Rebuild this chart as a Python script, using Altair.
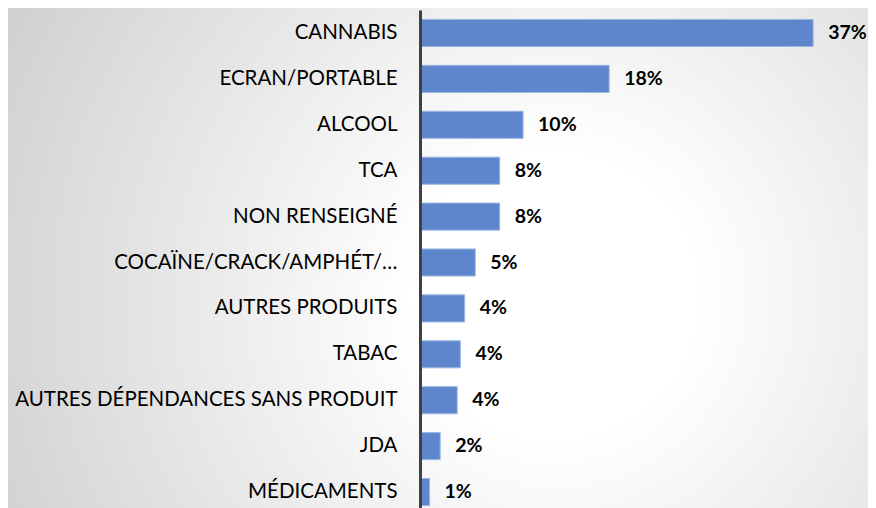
import altair as alt
import pandas as pd

categories = [
    "CANNABIS", "ECRAN/PORTABLE", "ALCOOL", "TCA", "NON RENSEIGNÉ",
    "COCAÏNE/CRACK/AMPHÉT/…", "AUTRES PRODUITS", "TABAC",
    "AUTRES DÉPENDANCES SANS PRODUIT", "JDA", "MÉDICAMENTS",
]
values = [37.0, 17.8, 9.7, 7.5, 7.5, 5.2, 4.2, 3.8, 3.5, 1.9, 0.9]
labels = ["37%", "18%", "10%", "8%", "8%", "5%", "4%", "4%", "4%", "2%", "1%"]

df = pd.DataFrame({"cat": categories, "val": values, "lab": labels})

W, H = 425, 505
FONT = "Lato"
FS = 20.5

grad = alt.RadialGradient(
    gradient="radial",
    x1=0.636, y1=0.54, r1=0,
    x2=0.636, y2=0.54, r2=0.75,
    stops=[
        alt.GradientStop(offset=0, color="#ffffff"),
        alt.GradientStop(offset=0.22, color="#ffffff"),
        alt.GradientStop(offset=1, color="#cdcdcd"),
    ],
)

bg = alt.Chart(df).mark_rect(color=grad).encode(
    x=alt.value(-412), x2=alt.value(448),
    y=alt.value(-2), y2=alt.value(H),
)

yenc = alt.Y(
    "cat:N", sort=categories, title=None,
    scale=alt.Scale(paddingInner=0.41, paddingOuter=0.205),
    axis=alt.Axis(
        ticks=False, tickSize=0, labelPadding=23, domainColor="#404040",
        domainWidth=3, labelFont=FONT, labelFontSize=FS, labelColor="#000000",
        labelLimit=500, zindex=1,
    ),
)
xenc = alt.X("val:Q", scale=alt.Scale(domain=[0, 40]), axis=None)

bars = alt.Chart(df).mark_bar(color="#5E86CD", stroke="#9DB6E3", strokeWidth=1).encode(
    x=xenc, y=yenc
)
text = alt.Chart(df).mark_text(
    align="left", baseline="middle", dx=15, font=FONT, fontSize=19.5,
    fontWeight="bold", color="#000000",
).encode(x=xenc, y=alt.Y("cat:N", sort=categories), text="lab:N")

chart = alt.layer(bg, bars, text).properties(
    width=W, height=H,
    autosize=alt.AutoSizeParams(type="none"),
    padding={"left": 412, "top": 2, "right": 23, "bottom": 0},
    background="#ffffff",
).configure_view(stroke=None)

chart.save("out.html", embed_options={"renderer": "svg", "actions": False})
